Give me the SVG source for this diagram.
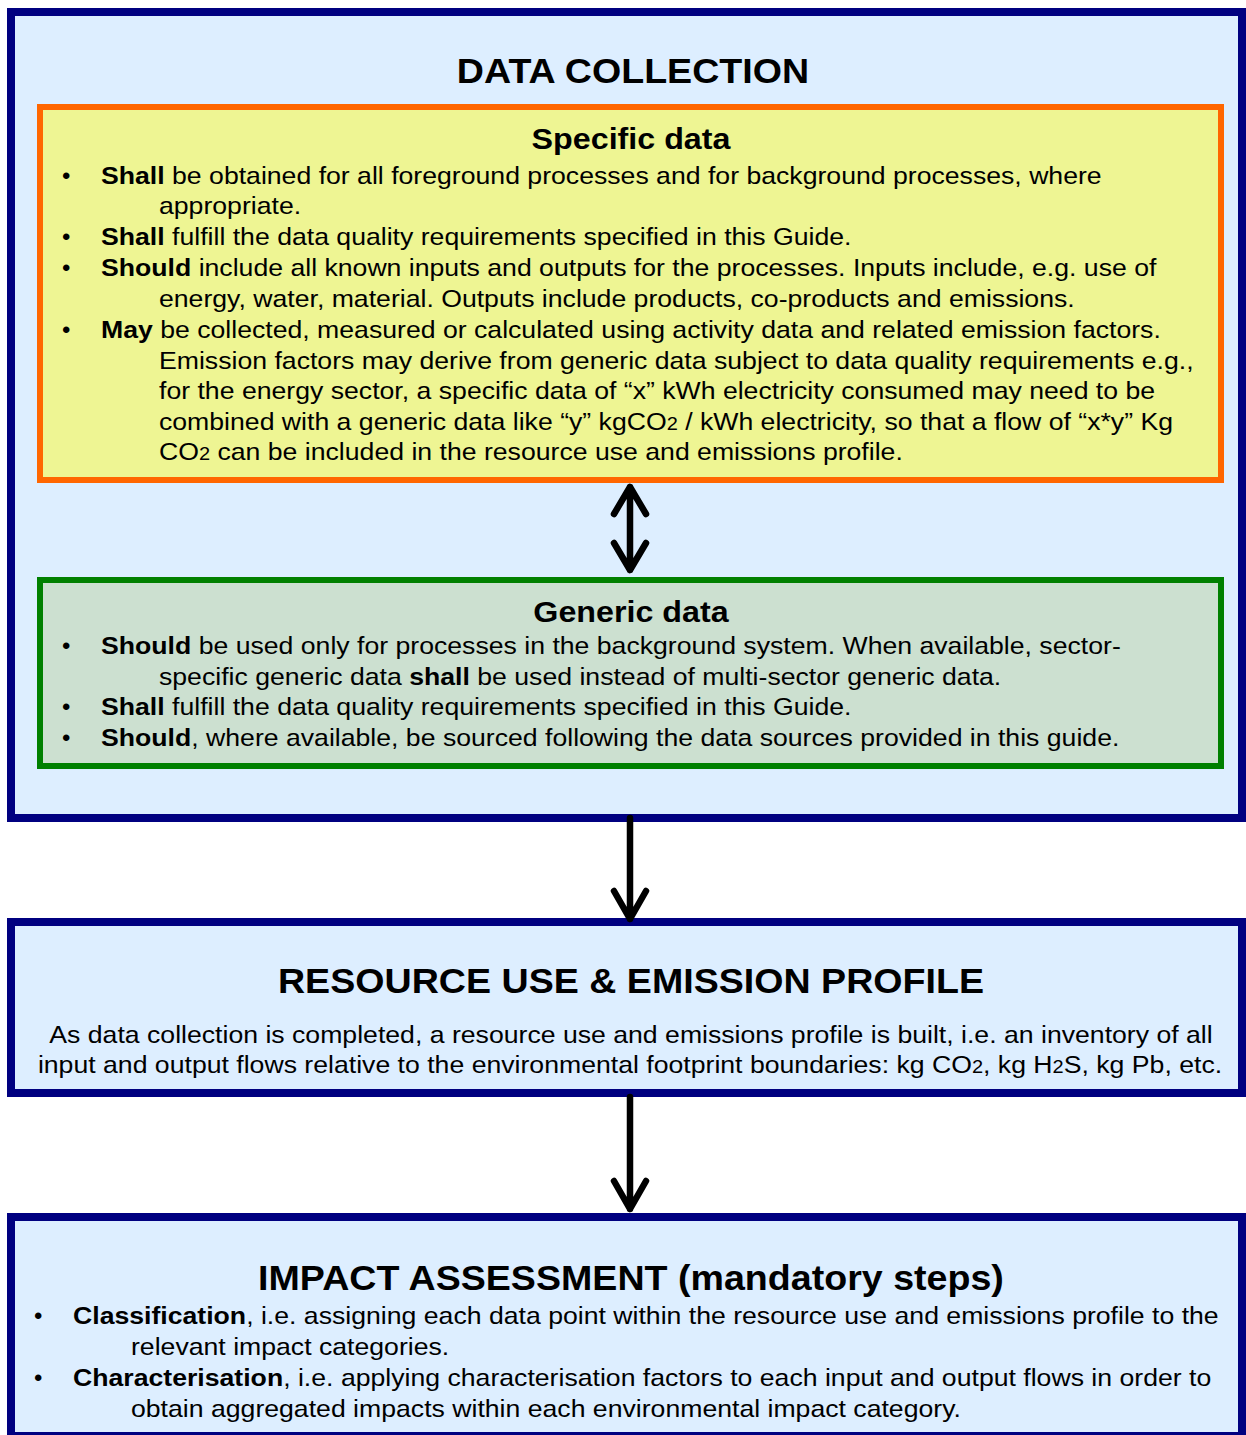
<svg xmlns="http://www.w3.org/2000/svg" width="1246" height="1435" viewBox="0 0 1246 1435">
<style>
text{font-family:"Liberation Sans",Arial,sans-serif;fill:#000}
.title{font-size:36px;font-weight:bold;text-anchor:middle}
.sub{font-size:30px;font-weight:bold;text-anchor:middle}
.body{font-size:24px}
.c{text-anchor:middle}
.b{font-weight:bold}
.s{font-size:18px}
.outer{fill:#DDEEFF;stroke:#000080;stroke-width:8}
.conn{fill:none;stroke:#000;stroke-width:6.5;stroke-linecap:round;stroke-linejoin:round}
</style>
<rect width="1246" height="1435" fill="#fff"/>
<g id="data-collection">
<rect class="outer" x="11" y="12" width="1231" height="806"/>
<text class="title" transform="translate(633 83) scale(1.045 1)">DATA COLLECTION</text>
</g>
<g id="specific-data">
<rect x="40" y="107" width="1181" height="373" fill="#EEF593" stroke="#FF6600" stroke-width="6"/>
<text class="sub" transform="translate(631 149) scale(1.075 1)">Specific data</text>
<g class="body">
<text x="62" y="184">•</text>
<text transform="translate(101 184) scale(1.11 1)"><tspan class="b">Shall</tspan> be obtained for all foreground processes and for background processes, where</text>
<text transform="translate(159 214) scale(1.11 1)">appropriate.</text>
<text x="62" y="245">•</text>
<text transform="translate(101 245) scale(1.11 1)"><tspan class="b">Shall</tspan> fulfill the data quality requirements specified in this Guide.</text>
<text x="62" y="276">•</text>
<text transform="translate(101 276) scale(1.11 1)"><tspan class="b">Should</tspan> include all known inputs and outputs for the processes. Inputs include, e.g. use of</text>
<text transform="translate(159 307) scale(1.11 1)">energy, water, material. Outputs include products, co-products and emissions.</text>
<text x="62" y="338">•</text>
<text transform="translate(101 338) scale(1.11 1)"><tspan class="b">May</tspan> be collected, measured or calculated using activity data and related emission factors.</text>
<text transform="translate(159 369) scale(1.11 1)">Emission factors may derive from generic data subject to data quality requirements e.g.,</text>
<text transform="translate(159 399) scale(1.11 1)">for the energy sector, a specific data of “x” kWh electricity consumed may need to be</text>
<text transform="translate(159 430) scale(1.11 1)">combined with a generic data like “y” kgCO<tspan class="s">2</tspan> / kWh electricity, so that a flow of “x*y” Kg</text>
<text transform="translate(159 460) scale(1.11 1)">CO<tspan class="s">2</tspan> can be included in the resource use and emissions profile.</text>
</g>
</g>
<g id="generic-data">
<rect x="40" y="580" width="1181" height="186" fill="#CCE0D0" stroke="#008000" stroke-width="6"/>
<text class="sub" transform="translate(631 622) scale(1.075 1)">Generic data</text>
<g class="body">
<text x="62" y="654">•</text>
<text transform="translate(101 654) scale(1.11 1)"><tspan class="b">Should</tspan> be used only for processes in the background system. When available, sector-</text>
<text transform="translate(159 685) scale(1.11 1)">specific generic data <tspan class="b">shall</tspan> be used instead of multi-sector generic data.</text>
<text x="62" y="715">•</text>
<text transform="translate(101 715) scale(1.11 1)"><tspan class="b">Shall</tspan> fulfill the data quality requirements specified in this Guide.</text>
<text x="62" y="746">•</text>
<text transform="translate(101 746) scale(1.11 1)"><tspan class="b">Should</tspan>, where available, be sourced following the data sources provided in this guide.</text>
</g>
</g>
<g id="resource-use">
<rect class="outer" x="11" y="922" width="1231" height="171"/>
<text class="title" transform="translate(631 993) scale(1.045 1)">RESOURCE USE &amp; EMISSION PROFILE</text>
<text class="body c" transform="translate(631 1043) scale(1.11 1)">As data collection is completed, a resource use and emissions profile is built, i.e. an inventory of all</text>
<text class="body c" transform="translate(630 1073) scale(1.11 1)">input and output flows relative to the environmental footprint boundaries: kg CO<tspan class="s">2</tspan>, kg H<tspan class="s">2</tspan>S, kg Pb, etc.</text>
</g>
<g id="impact-assessment">
<rect class="outer" x="11" y="1217" width="1231" height="219"/>
<text class="title" transform="translate(631 1290) scale(1.045 1)">IMPACT ASSESSMENT (mandatory steps)</text>
<g class="body">
<text x="34" y="1324">•</text>
<text transform="translate(73 1324) scale(1.11 1)"><tspan class="b">Classification</tspan>, i.e. assigning each data point within the resource use and emissions profile to the</text>
<text transform="translate(131 1355) scale(1.11 1)">relevant impact categories.</text>
<text x="34" y="1386">•</text>
<text transform="translate(73 1386) scale(1.11 1)"><tspan class="b">Characterisation</tspan>, i.e. applying characterisation factors to each input and output flows in order to</text>
<text transform="translate(131 1417) scale(1.11 1)">obtain aggregated impacts within each environmental impact category.</text>
</g>
</g>
<g id="connectors">
<path class="conn" d="M630 487 V570 M614 514 L630 487 L646 514 M614 543 L630 570 L646 543"/>
<path class="conn" d="M630 818 V919 M614 891 L630 919 L646 891"/>
<path class="conn" d="M630 1097 V1209 M614 1181 L630 1209 L646 1181"/>
</g>
</svg>
